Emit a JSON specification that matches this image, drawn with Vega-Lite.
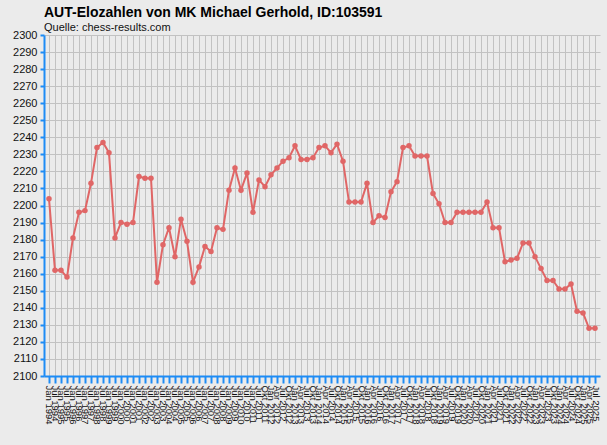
{
  "$schema": "https://vega.github.io/schema/vega-lite/v6.json",
  "autosize": "none",
  "padding": {"left": 44, "top": 35, "right": 7, "bottom": 69},
  "width": 556,
  "height": 341,
  "background": "#ebebeb",
  "title": {
    "text": "AUT-Elozahlen von MK Michael Gerhold, ID:103591",
    "subtitle": "Quelle: chess-results.com",
    "anchor": "start",
    "frame": "group",
    "font": "Liberation Sans",
    "fontSize": 14,
    "fontWeight": "bold",
    "color": "#000000",
    "subtitleFont": "Liberation Sans",
    "subtitleFontSize": 11,
    "subtitleColor": "#111111",
    "subtitlePadding": 2,
    "offset": -4
  },
  "config": {
    "view": {"stroke": null, "fill": "#ebebeb"},
    "axis": {"labelFont": "Liberation Sans", "labelColor": "#111111"}
  },
  "data": {
    "values": [
      {"date": "Jan 1994", "elo": 2204},
      {"date": "Jul 1994", "elo": 2162},
      {"date": "Jan 1995", "elo": 2162},
      {"date": "Jul 1995", "elo": 2158},
      {"date": "Jan 1996", "elo": 2181},
      {"date": "Jul 1996", "elo": 2196},
      {"date": "Jan 1997", "elo": 2197},
      {"date": "Jul 1997", "elo": 2213},
      {"date": "Jan 1998", "elo": 2234},
      {"date": "Jul 1998", "elo": 2237},
      {"date": "Jan 1999", "elo": 2231},
      {"date": "Jul 1999", "elo": 2181},
      {"date": "Jan 2000", "elo": 2190},
      {"date": "Jul 2000", "elo": 2189},
      {"date": "Jan 2001", "elo": 2190},
      {"date": "Jul 2001", "elo": 2217},
      {"date": "Jan 2002", "elo": 2216},
      {"date": "Jul 2002", "elo": 2216},
      {"date": "Jan 2003", "elo": 2155},
      {"date": "Jul 2003", "elo": 2177},
      {"date": "Jan 2004", "elo": 2187},
      {"date": "Jul 2004", "elo": 2170},
      {"date": "Jan 2005", "elo": 2192},
      {"date": "Jul 2005", "elo": 2179},
      {"date": "Jan 2006", "elo": 2155},
      {"date": "Jul 2006", "elo": 2164},
      {"date": "Jan 2007", "elo": 2176},
      {"date": "Jul 2007", "elo": 2173},
      {"date": "Jan 2008", "elo": 2187},
      {"date": "Jul 2008", "elo": 2186},
      {"date": "Jan 2009", "elo": 2209},
      {"date": "Jul 2009", "elo": 2222},
      {"date": "Jan 2010", "elo": 2209},
      {"date": "Jul 2010", "elo": 2219},
      {"date": "Jan 2011", "elo": 2196},
      {"date": "Jul 2011", "elo": 2215},
      {"date": "Okt 2011", "elo": 2211},
      {"date": "Jan 2012", "elo": 2218},
      {"date": "Apr 2012", "elo": 2222},
      {"date": "Jul 2012", "elo": 2226},
      {"date": "Okt 2012", "elo": 2228},
      {"date": "Jan 2013", "elo": 2235},
      {"date": "Apr 2013", "elo": 2227},
      {"date": "Jul 2013", "elo": 2227},
      {"date": "Okt 2013", "elo": 2228},
      {"date": "Jan 2014", "elo": 2234},
      {"date": "Apr 2014", "elo": 2235},
      {"date": "Jul 2014", "elo": 2231},
      {"date": "Okt 2014", "elo": 2236},
      {"date": "Jan 2015", "elo": 2226},
      {"date": "Apr 2015", "elo": 2202},
      {"date": "Jul 2015", "elo": 2202},
      {"date": "Okt 2015", "elo": 2202},
      {"date": "Jan 2016", "elo": 2213},
      {"date": "Apr 2016", "elo": 2190},
      {"date": "Jul 2016", "elo": 2194},
      {"date": "Okt 2016", "elo": 2193},
      {"date": "Jan 2017", "elo": 2208},
      {"date": "Apr 2017", "elo": 2214},
      {"date": "Jul 2017", "elo": 2234},
      {"date": "Okt 2017", "elo": 2235},
      {"date": "Jan 2018", "elo": 2229},
      {"date": "Apr 2018", "elo": 2229},
      {"date": "Jul 2018", "elo": 2229},
      {"date": "Okt 2018", "elo": 2207},
      {"date": "Jan 2019", "elo": 2201},
      {"date": "Apr 2019", "elo": 2190},
      {"date": "Jul 2019", "elo": 2190},
      {"date": "Okt 2019", "elo": 2196},
      {"date": "Jan 2020", "elo": 2196},
      {"date": "Apr 2020", "elo": 2196},
      {"date": "Jul 2020", "elo": 2196},
      {"date": "Okt 2020", "elo": 2196},
      {"date": "Jan 2021", "elo": 2202},
      {"date": "Apr 2021", "elo": 2187},
      {"date": "Jul 2021", "elo": 2187},
      {"date": "Okt 2021", "elo": 2167},
      {"date": "Jan 2022", "elo": 2168},
      {"date": "Apr 2022", "elo": 2169},
      {"date": "Jul 2022", "elo": 2178},
      {"date": "Okt 2022", "elo": 2178},
      {"date": "Jan 2023", "elo": 2170},
      {"date": "Apr 2023", "elo": 2163},
      {"date": "Jul 2023", "elo": 2156},
      {"date": "Okt 2023", "elo": 2156},
      {"date": "Jan 2024", "elo": 2151},
      {"date": "Apr 2024", "elo": 2151},
      {"date": "Jul 2024", "elo": 2154},
      {"date": "Okt 2024", "elo": 2138},
      {"date": "Jan 2025", "elo": 2137},
      {"date": "Apr 2025", "elo": 2128},
      {"date": "Jul 2025", "elo": 2128}
    ]
  },
  "mark": {
    "type": "line",
    "color": "#e06666",
    "strokeWidth": 2,
    "point": {"filled": true, "size": 30, "color": "#e06666"}
  },
  "encoding": {
    "x": {
      "field": "date",
      "type": "ordinal",
      "sort": null,
      "scale": {"type": "point", "padding": 0.83},
      "axis": {
        "title": null,
        "labelAngle": 90,
        "labelAlign": "left",
        "labelBaseline": "middle",
        "labelFontSize": 9.5,
        "labelPadding": 2,
        "labelOverlap": false,
        "grid": true,
        "gridColor": "#c2c2c2",
        "gridWidth": 1,
        "domainColor": "#1e8cf5",
        "domainWidth": 2,
        "tickColor": "#1e8cf5",
        "tickWidth": 2,
        "tickSize": 7
      }
    },
    "y": {
      "field": "elo",
      "type": "quantitative",
      "scale": {"domain": [2100, 2300], "nice": false, "zero": false},
      "axis": {
        "title": null,
        "format": "d",
        "values": [2100, 2110, 2120, 2130, 2140, 2150, 2160, 2170, 2180, 2190, 2200, 2210, 2220, 2230, 2240, 2250, 2260, 2270, 2280, 2290, 2300],
        "labelFontSize": 11,
        "labelPadding": 3,
        "grid": true,
        "gridColor": "#c2c2c2",
        "gridWidth": 1,
        "domainColor": "#1e8cf5",
        "domainWidth": 2,
        "tickColor": "#1e8cf5",
        "tickWidth": 2,
        "tickSize": 4
      }
    }
  }
}
